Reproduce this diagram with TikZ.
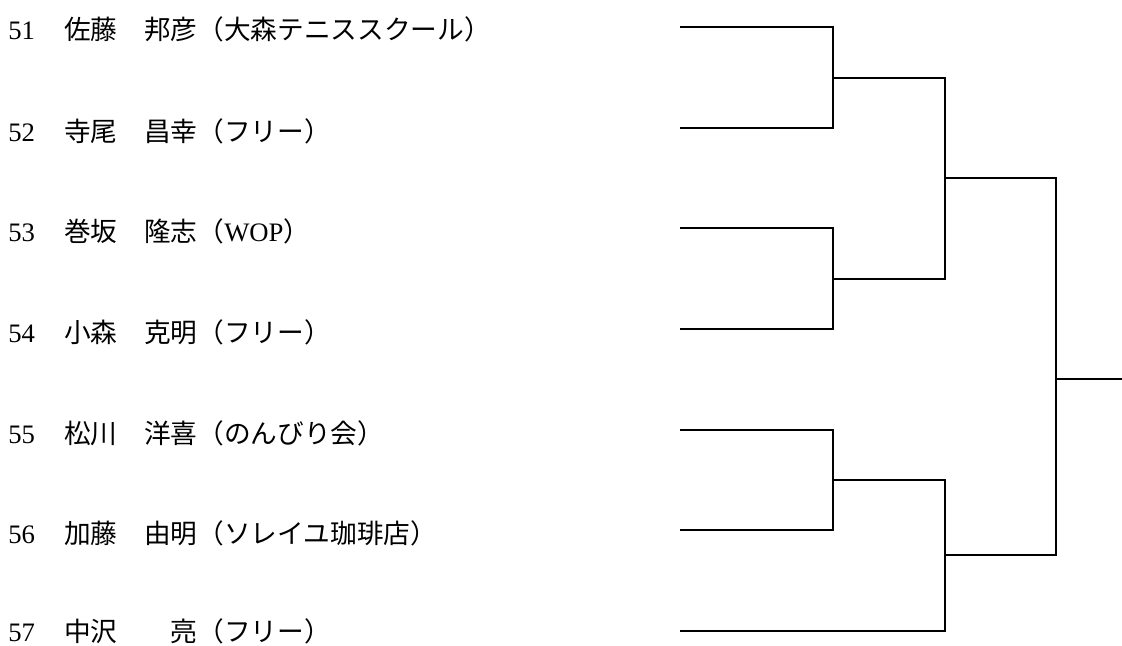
\documentclass[tikz,border=0pt]{standalone}
\usepackage{fontspec}
\setmainfont{Liberation Serif}
\newfontfamily\jpfont{Noto Sans CJK JP}
\usetikzlibrary{positioning}
\tikzset{
  seed/.style={anchor=base west,inner sep=0pt,font=\fontsize{20}{24}\selectfont},
  player/.style={seed,font=\fontsize{20}{24}\selectfont\jpfont},
  bracket/.style={line width=1pt,draw=black}
}

\begin{document}
\begin{tikzpicture}[x=0.75pt,y=-0.75pt]
  \useasboundingbox (0,0) rectangle (1122,646);
  % entry list
  \node[seed] (n51) at (8,40) {51};
  \node[player] (p51) at (64,40) {佐藤　邦彦（大森テニススクール）};
  \node[seed] (n52) at (8,141) {52};
  \node[player] (p52) at (64,141) {寺尾　昌幸（フリー）};
  \node[seed] (n53) at (8,241) {53};
  \node[player] (p53) at (64,241) {巻坂　隆志（{\rmfamily WOP}）};
  \node[seed] (n54) at (8,342) {54};
  \node[player] (p54) at (64,342) {小森　克明（フリー）};
  \node[seed] (n55) at (8,443) {55};
  \node[player] (p55) at (64,443) {松川　洋喜（のんびり会）};
  \node[seed] (n56) at (8,543) {56};
  \node[player] (p56) at (64,543) {加藤　由明（ソレイユ珈琲店）};
  \node[seed] (n57) at (8,641) {57};
  \node[player] (p57) at (64,641) {中沢　　亮（フリー）};
  % bracket
  \coordinate (s1) at (680,27);
  \coordinate (s2) at (680,128);
  \coordinate (s3) at (680,228);
  \coordinate (s4) at (680,329);
  \coordinate (s5) at (680,430);
  \coordinate (s6) at (680,530);
  \coordinate (s7) at (680,631);
  \coordinate (m12) at (833,78);
  \coordinate (m34) at (833,279);
  \coordinate (m56) at (833,480);
  \coordinate (m1234) at (945,178);
  \coordinate (m567) at (945,555);
  \coordinate (final) at (1056,379);
  \coordinate (winner) at (1122,379);
  \draw[bracket] (s1) -| (m12) |- (s2);
  \draw[bracket] (s3) -| (m34) |- (s4);
  \draw[bracket] (s5) -| (m56) |- (s6);
  \draw[bracket] (m12) -| (m1234) |- (m34);
  \draw[bracket] (m56) -| (m567) |- (s7);
  \draw[bracket] (m1234) -| (final) |- (m567);
  \draw[bracket] (final) -- (winner);
\end{tikzpicture}
\end{document}
